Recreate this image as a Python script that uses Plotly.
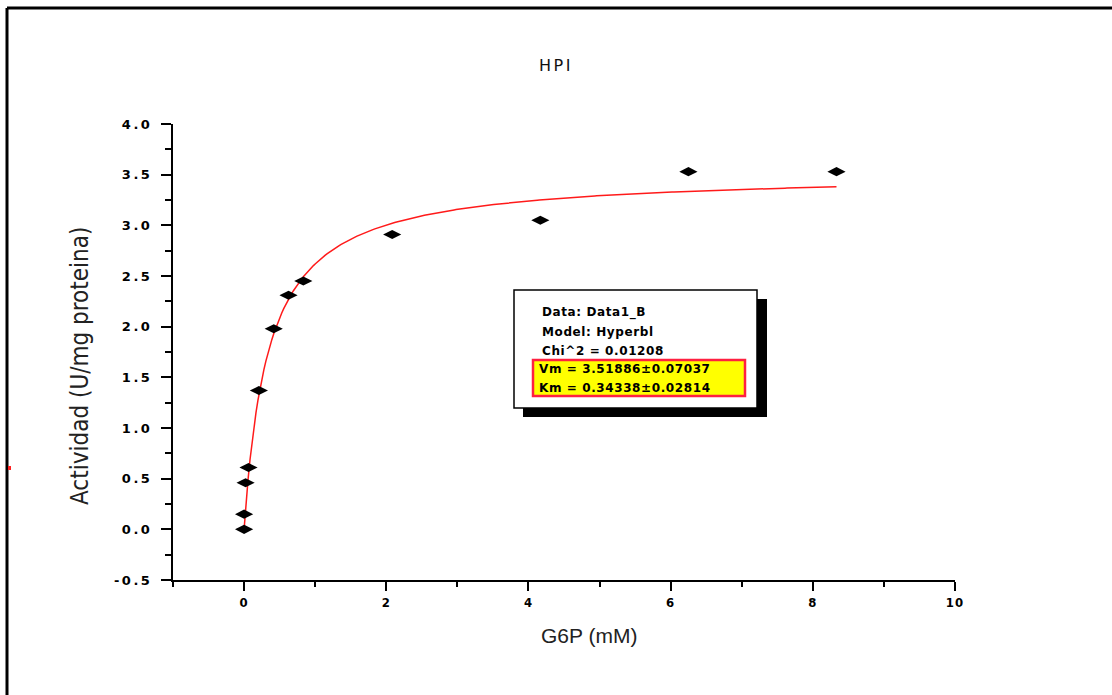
import numpy as np
import plotly.graph_objects as go

# Substrate concentration (mM) and measured activity (U/mg proteina)
g6p_mm = [0.0, 0.0, 0.0208, 0.0625, 0.208, 0.417, 0.625, 0.833, 2.083, 4.167, 6.25, 8.333]
actividad = [0.0, 0.15, 0.46, 0.61, 1.37, 1.98, 2.31, 2.45, 2.91, 3.05, 3.53, 3.53]

# Hyperbolic (Michaelis-Menten) fit parameters
vm, vm_err = 3.51886, 0.07037
km, km_err = 0.34338, 0.02814
chi2 = 0.01208

x_ticks = [0, 2, 4, 6, 8, 10]
y_ticks = [-0.5, 0.0, 0.5, 1.0, 1.5, 2.0, 2.5, 3.0, 3.5, 4.0]

W, H = 1112, 695
ML, MR, MT, MB = 173, 157, 124, 115
PW, PH = W - ML - MR, H - MT - MB


def px(x):
    return (x - ML) / PW


def py(y):
    return (H - MB - y) / PH


def spaced(txt, gap):
    return f'<span style="letter-spacing:{gap}px">{txt}</span>'


fit_x = np.linspace(0, max(g6p_mm), 300)
fit_y = vm * fit_x / (km + fit_x)

fig = go.Figure()
fig.add_trace(go.Scatter(x=fit_x, y=fit_y, mode="lines",
                         line=dict(color="#ff1a1a", width=1.5), hoverinfo="skip"))
fig.add_trace(go.Scatter(x=g6p_mm, y=actividad, mode="markers",
                         marker=dict(symbol="diamond-wide", size=13, color="black",
                                     line=dict(width=0))))

tick_font = dict(family="DejaVu Sans", size=13, color="black", weight="bold")
fig.update_xaxes(range=[-1, 10], tickvals=x_ticks,
                 ticktext=[spaced(str(v), 1) for v in x_ticks],
                 showline=True, linecolor="black", linewidth=2, ticks="outside",
                 ticklen=9, tickwidth=2, tickcolor="black", showgrid=False, zeroline=False,
                 minor=dict(dtick=1, tick0=0, ticks="outside", ticklen=5, tickwidth=2,
                            tickcolor="black", showgrid=False),
                 tickfont=dict(family="DejaVu Sans Condensed, DejaVu Sans", size=13,
                               color="black", weight="bold"))
fig.update_yaxes(range=[-0.5, 4.0], tickvals=y_ticks,
                 ticktext=[spaced(f"{v:.1f}", 2.5) for v in y_ticks],
                 showline=True, linecolor="black", linewidth=2, ticks="outside",
                 ticklen=10, tickwidth=2, tickcolor="black", showgrid=False, zeroline=False,
                 minor=dict(dtick=0.25, tick0=0, ticks="outside", ticklen=6, tickwidth=2,
                            tickcolor="black", showgrid=False),
                 ticklabelstandoff=6, tickfont=tick_font)

shapes = [
    # page frame
    dict(type="line", xref="paper", yref="paper", x0=px(7), x1=px(W), y0=py(8), y1=py(8),
         line=dict(color="black", width=3)),
    dict(type="line", xref="paper", yref="paper", x0=px(7), x1=px(7), y0=py(8), y1=py(H),
         line=dict(color="black", width=3)),
    dict(type="rect", xref="paper", yref="paper", x0=px(8), x1=px(11), y0=py(466), y1=py(470),
         line=dict(width=0), fillcolor="#ff2020"),
    # fit-results box: shadow, frame, highlighted parameters
    dict(type="rect", xref="paper", yref="paper", x0=px(523), x1=px(767), y0=py(299), y1=py(417),
         line=dict(width=0), fillcolor="black"),
    dict(type="rect", xref="paper", yref="paper", x0=px(514), x1=px(757), y0=py(290), y1=py(408),
         line=dict(color="black", width=1.5), fillcolor="white"),
    dict(type="rect", xref="paper", yref="paper", x0=px(533), x1=px(745), y0=py(360), y1=py(396),
         line=dict(color="#ff2040", width=2.5), fillcolor="#ffff00"),
]

box_font = dict(family="DejaVu Sans", size=12, color="black", weight="bold")
box_lines = [
    ("Data: Data1_B", 312),
    ("Model: Hyperbl", 332),
    (f"Chi^2 = {chi2:.5f}", 351),
    (f"Vm = {vm:.5f}\u00b1{vm_err:.5f}", 369),
    (f"Km = {km:.5f}\u00b1{km_err:.5f}", 388),
]
annotations = []
for i, (txt, ypix) in enumerate(box_lines):
    annotations.append(dict(text=spaced(txt, 0.6), xref="paper", yref="paper",
                            x=px(540 if i < 3 else 537), y=py(ypix),
                            xanchor="left", yanchor="middle", showarrow=False,
                            font=box_font))

annotations += [
    dict(text=spaced("HPI", 2.5), xref="paper", yref="paper", x=px(556), y=py(65),
         xanchor="center", yanchor="middle", showarrow=False,
         font=dict(family="DejaVu Sans", size=16, color="#111111")),
    dict(text="G6P (mM)", xref="paper", yref="paper", x=px(589), y=py(635),
         xanchor="center", yanchor="middle", showarrow=False,
         font=dict(family="Liberation Sans", size=21, color="#222222")),
    dict(text="Actividad (U/mg proteina)", xref="paper", yref="paper", x=px(80), y=py(366),
         xanchor="center", yanchor="middle", showarrow=False, textangle=-90,
         font=dict(family="Liberation Sans Narrow, DejaVu Sans Condensed, Liberation Sans",
                   size=24, color="#222222")),
]

fig.update_layout(width=W, height=H, margin=dict(l=ML, r=MR, t=MT, b=MB),
                  paper_bgcolor="white", plot_bgcolor="white", showlegend=False,
                  shapes=shapes, annotations=annotations)

fig.write_html("out.html")
